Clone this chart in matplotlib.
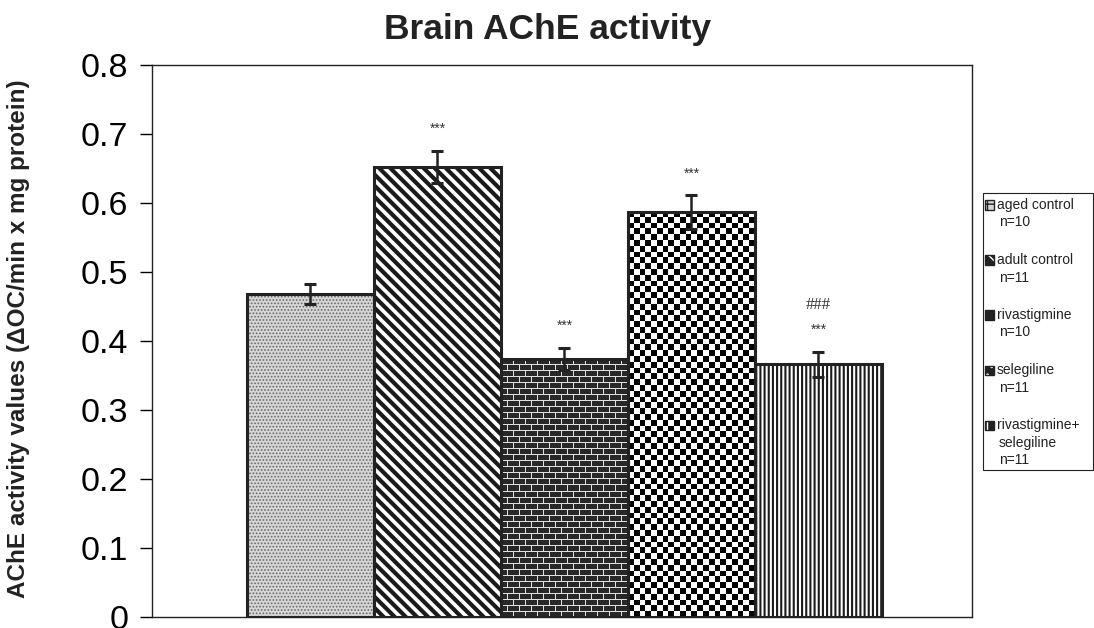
import numpy as np
import matplotlib
matplotlib.use("Agg")
import matplotlib.pyplot as plt
from matplotlib.patches import Rectangle

plt.rcParams['font.family'] = ['Liberation Sans', 'DejaVu Sans']

groups = ["aged control\nn=10", "adult control\nn=11", "rivastigmine\nn=10",
          "selegiline\nn=11", "rivastigmine+\nselegiline\nn=11"]
means = [0.468, 0.652, 0.374, 0.587, 0.366]
sems = [0.014, 0.023, 0.016, 0.024, 0.018]
stars = ["", "***", "***", "***", "***"]
hashes = ["", "", "", "", "###"]

W, H = 1094, 628
fig = plt.figure(figsize=(W / 100, H / 100), dpi=100)
ax = fig.add_axes([152 / W, 1 - 617 / H, 820 / W, 552 / H])

x = np.arange(len(means))
w = 1.0
faces = ["#d6d6d6", "white", "#2a2a2a", "white", "white"]
hatch_cols = ["#6a6a6a", "#1a1a1a", "#2a2a2a", "white", "#1a1a1a"]
hatches = [".....", "\\\\\\", None, None, "||||"]
lws = [0.8, 3.0, 1.0, 1.0, 1.5]

bars = ax.bar(x, means, width=w, color=faces, edgecolor=hatch_cols, linewidth=0, zorder=2)
for b, h, lw in zip(bars, hatches, lws):
    if h:
        b.set_hatch(h)
        try:
            b.set_hatch_linewidth(lw)
        except AttributeError:
            pass

# brick texture for rivastigmine bar
b3 = bars[2]
hb, wb = int(means[2] * 690), 127
rr, cc = np.indices((hb, wb))
mortar = (rr % 6 == 0) | (((cc + np.where((rr // 6) % 2 == 0, 0, 6)) % 12) == 0)
brick = np.where(mortar, 0.88, 0.16)
ax.imshow(brick, cmap="gray", vmin=0, vmax=1, interpolation="nearest", aspect="auto",
          extent=(b3.get_x(), b3.get_x() + w, 0, means[2]), zorder=2.5,
          clip_path=b3, clip_on=True)

# checker texture for selegiline bar
b4 = bars[3]
nx = 22
ny = int(round(nx * means[3] * 690 / 127))
checker = np.indices((ny, nx)).sum(axis=0) % 2
ax.imshow(checker, cmap="gray", vmin=0, vmax=1, interpolation="nearest", aspect="auto",
          extent=(b4.get_x(), b4.get_x() + w, 0, means[3]), zorder=2.5,
          clip_path=b4, clip_on=True)

# outline
ax.bar(x, means, width=w, fill=False, edgecolor="#222222", linewidth=2.2, zorder=3)
ax.errorbar(x, means, yerr=sems, fmt="none", ecolor="#222222", elinewidth=1.8,
            capsize=4, capthick=2.2, zorder=4)

for i in range(len(means)):
    top = means[i] + sems[i]
    if stars[i]:
        ax.text(x[i], top + 0.032, stars[i], ha="center", va="center", fontsize=10, color="#333333")
    if hashes[i]:
        ax.text(x[i], top + 0.068, hashes[i], ha="center", va="center", fontsize=12,
                color="#333333", family="Liberation Serif")

ax.set_xlim(-1.248, 5.209)
ax.set_ylim(0, 0.8)
ax.set_xticks([])
ax.set_yticks(np.arange(0, 0.81, 0.1))
ax.yaxis.set_major_formatter(plt.FuncFormatter(lambda v, p: "0" if abs(v) < 1e-9 else f"{v:.1f}"))
ax.tick_params(axis="y", labelsize=24.5, length=9, width=1, direction="out", pad=8)
for s in ax.spines.values():
    s.set_linewidth(1)
    s.set_color("#222222")

fig.text(19 / W, 1 - 339 / H, "AChE activity values (ΔOC/min x mg protein)", rotation=90,
         ha="center", va="center", fontsize=17.5, fontweight="bold", color="#222222")
fig.text(548 / W, 1 - 30 / H, "Brain AChE activity", ha="center", va="center",
         fontsize=25.5, fontweight="bold", color="#222222")

# legend box, drawn by hand so that the swatch sits on the first line
fig.patches.append(Rectangle((983 / W, 1 - 470 / H), 110 / W, 277 / H, transform=fig.transFigure,
                             facecolor="white", edgecolor="#222222", linewidth=0.8))
sw_hatch = ["++", "\\\\", "-", "..", "||"]
sw_face = ["#d6d6d6", "#222222", "#222222", "#222222", "#222222"]
sw_hc = ["#222222", "white", "white", "white", "white"]
y0 = 205
for i, lab in enumerate(groups):
    yy = y0 + 55 * i
    fig.patches.append(Rectangle((985 / W, 1 - (yy + 4.5) / H), 9 / W, 9 / H,
                                 transform=fig.transFigure, facecolor=sw_face[i],
                                 edgecolor=sw_hc[i], hatch=sw_hatch[i], linewidth=0))
    fig.patches.append(Rectangle((985 / W, 1 - (yy + 4.5) / H), 9 / W, 9 / H,
                                 transform=fig.transFigure, fill=False,
                                 edgecolor="#222222", linewidth=1))
    for j, line in enumerate(lab.split("\n")):
        fig.text((997 if j == 0 else 999) / W, 1 - (yy + 17.5 * j) / H, line,
                 ha="left", va="center", fontsize=10, color="#222222")

fig.savefig("out.png", dpi=100)
